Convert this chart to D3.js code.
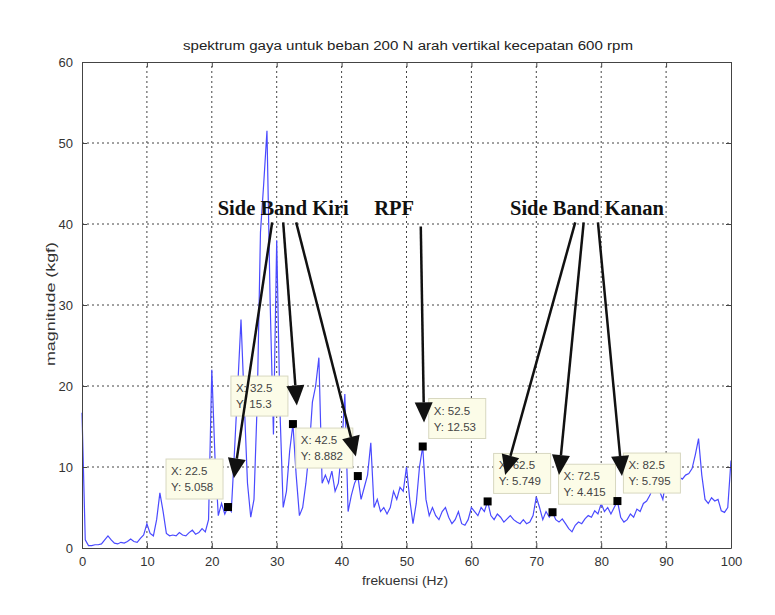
<!DOCTYPE html>
<html><head><meta charset="utf-8">
<script src="https://cdn.jsdelivr.net/npm/d3@7"></script>
<style>body{margin:0;background:#fff}svg{display:block}</style>
</head><body>
<svg id="c" width="775" height="615"></svg>
<script>
const title = "spektrum gaya untuk beban 200 N arah vertikal kecepatan 600 rpm";
const xLabel = "frekuensi (Hz)";
const yLabel = "magnitude (kgf)";
const xTicks = [0,10,20,30,40,50,60,70,80,90,100];
const yTicks = [0,10,20,30,40,50,60];
const freqStep = 0.5;
const magnitude = [
16.7,1.0,0.3,0.3,0.4,0.4,0.5,1.0,1.5,1.0,
0.6,0.5,0.7,0.6,0.8,1.1,0.8,0.7,1.2,1.6,
3.0,1.8,1.5,3.5,6.8,4.5,1.8,1.5,1.6,1.5,
1.9,1.6,1.5,1.9,2.2,1.7,1.9,2.4,2.0,3.5,
22.0,11.0,4.0,5.5,4.2,5.06,4.5,12.0,20.0,28.2,
18.0,8.0,3.8,6.0,18.0,39.0,45.0,51.5,30.0,14.0,
38.0,17.0,5.0,7.0,12.0,15.3,9.0,4.0,5.0,8.0,
12.0,18.0,20.0,23.5,8.0,9.0,8.0,9.5,7.0,8.0,
12.0,19.0,4.5,6.5,8.0,8.88,6.0,7.5,9.0,13.0,
5.0,6.0,4.5,5.0,4.2,5.0,7.0,6.0,7.5,7.0,
10.0,6.0,3.0,5.5,10.0,12.53,6.0,4.0,5.0,4.0,
3.5,4.5,5.0,3.8,3.0,3.5,4.5,3.0,2.8,3.5,
5.0,4.5,4.0,5.0,4.5,5.75,4.0,3.5,4.2,3.8,
3.2,3.6,4.0,3.5,3.2,3.0,3.5,3.0,3.2,4.0,
6.3,5.0,3.5,4.5,3.8,4.4,3.5,3.2,3.6,3.0,
2.4,2.0,2.8,3.2,3.0,3.6,4.0,3.8,4.6,4.2,
5.5,4.5,5.0,4.2,5.0,5.8,3.8,3.2,3.5,4.2,
3.8,4.8,4.5,5.5,5.8,6.5,7.5,8.2,7.0,6.0,
8.5,8.0,8.4,8.0,8.8,8.5,9.0,9.2,9.8,11.5,
13.5,9.0,6.0,5.5,6.2,5.8,6.0,4.6,4.4,5.0,
10.8];
const tipX = [22.5,32.5,42.5,52.5,62.5,72.5,82.5];
const tipY = [5.058,15.3,8.882,12.53,5.749,4.415,5.795];
const tipLabelX = ["22.5","32.5","42.5","52.5","62.5","72.5","82.5"];
const tipLabelY = ["5.058","15.3","8.882","12.53","5.749","4.415","5.795"];
const tipSide = ["left","left","left","right","right","right","right"];
const annLabels = ["Side Band Kiri","RPF","Side Band Kanan"];
const annLabelPos = [[31.0,41.1],[48.1,41.1],[77.8,41.1]];
const arrowStart = [[29.3,40.2],[31.0,40.2],[33.0,40.2],[52.2,39.7],[76.0,40.2],[77.3,40.2],[79.5,40.2]];
const arrowEnd = [[23.4,8.6],[33.1,17.6],[42.2,11.3],[52.7,15.5],[65.2,9.0],[73.5,9.0],[83.2,8.9]];

const svg = d3.select("#c");
const x = d3.scaleLinear().domain([0,100]).range([82,731]);
const y = d3.scaleLinear().domain([0,60]).range([548,62]);
const font = "Liberation Sans, Arial, sans-serif";
const axisCol = "#444";

// grid
const g = svg.append("g");
g.selectAll(".gx").data(xTicks.slice(1,-1)).enter().append("line")
  .attr("x1",d=>x(d)).attr("x2",d=>x(d)).attr("y1",y(0)).attr("y2",y(60))
  .attr("stroke","#444").attr("stroke-width",1).attr("stroke-dasharray","2,3");
g.selectAll(".gy").data(yTicks.slice(1,-1)).enter().append("line")
  .attr("y1",d=>y(d)).attr("y2",d=>y(d)).attr("x1",x(0)).attr("x2",x(100))
  .attr("stroke","#444").attr("stroke-width",1).attr("stroke-dasharray","2,3");

// spectrum line
const pts = magnitude.map((v,i)=>[i*freqStep,v]);
svg.append("path").datum(pts)
  .attr("d",d3.line().x(d=>x(d[0])).y(d=>y(d[1])))
  .attr("fill","none").attr("stroke","#4a4aff").attr("stroke-width",1.2);

// axes
const axB = d3.axisBottom(x).tickValues(xTicks).tickSizeInner(-5).tickSizeOuter(0).tickPadding(9);
const axT = d3.axisTop(x).tickValues(xTicks).tickSizeInner(-5).tickSizeOuter(0).tickFormat("");
const axL = d3.axisLeft(y).tickValues(yTicks).tickSizeInner(-5).tickSizeOuter(0).tickPadding(9);
const axR = d3.axisRight(y).tickValues(yTicks).tickSizeInner(-5).tickSizeOuter(0).tickFormat("");
[[axB,`translate(0,${y(0)})`],[axT,`translate(0,${y(60)})`],[axL,`translate(${x(0)},0)`],[axR,`translate(${x(100)},0)`]].forEach(([a,t])=>{
  const ga = svg.append("g").attr("transform",t).call(a);
  ga.selectAll("path,line").attr("stroke",axisCol);
  ga.selectAll("text").attr("fill","#333").style("font-family",font).style("font-size","13px");
});

// titles
svg.append("text").attr("x",408).attr("y",50).attr("text-anchor","middle")
  .attr("textLength",450).attr("lengthAdjust","spacingAndGlyphs")
  .style("font-family",font).style("font-size","12.5px").attr("fill","#222").text(title);
svg.append("text").attr("x",405).attr("y",585).attr("text-anchor","middle")
  .attr("textLength",86).attr("lengthAdjust","spacingAndGlyphs")
  .style("font-family",font).style("font-size","13px").attr("fill","#333").text(xLabel);
svg.append("text").attr("transform","translate(55,304) rotate(-90)").attr("text-anchor","middle")
  .attr("textLength",124).attr("lengthAdjust","spacingAndGlyphs")
  .style("font-family",font).style("font-size","12px").attr("fill","#333").text(yLabel);

// data tips
tipX.forEach((tx,i)=>{
  const px = x(tx), py = y(tipY[i]);
  const w = 57, h = 40;
  const bx = tipSide[i]==="left" ? px-5-w : px+6;
  const by = py-8-h;
  svg.append("rect").attr("x",bx).attr("y",by).attr("width",w).attr("height",h)
    .attr("fill","#fcfce8").attr("stroke","#d8d8c0").attr("stroke-width",1);
  svg.append("text").attr("x",bx+5).attr("y",by+16).style("font-family",font).style("font-size","11.5px")
    .attr("fill","#444").text("X: "+tipLabelX[i]);
  svg.append("text").attr("x",bx+5).attr("y",by+32).style("font-family",font).style("font-size","11.5px")
    .attr("fill","#444").text("Y: "+tipLabelY[i]);
  svg.append("rect").attr("x",px-4).attr("y",py-4).attr("width",8).attr("height",8).attr("fill","#000");
});

// arrows
arrowStart.forEach((s,i)=>{
  const x1=x(s[0]), y1=y(s[1]), x2=x(arrowEnd[i][0]), y2=y(arrowEnd[i][1]);
  const ang = Math.atan2(y2-y1,x2-x1), L=20, W=9;
  const bx = x2-L*Math.cos(ang), by = y2-L*Math.sin(ang);
  svg.append("line").attr("x1",x1).attr("y1",y1).attr("x2",bx).attr("y2",by)
    .attr("stroke","#111").attr("stroke-width",2.5);
  const p = [[x2,y2],[bx+W*Math.sin(ang),by-W*Math.cos(ang)],[bx-W*Math.sin(ang),by+W*Math.cos(ang)]];
  svg.append("path").attr("d","M"+p.map(q=>q.join(",")).join("L")+"Z").attr("fill","#111");
});
annLabels.forEach((t,i)=>{
  svg.append("text").attr("x",x(annLabelPos[i][0])).attr("y",y(annLabelPos[i][1]))
    .attr("text-anchor","middle").style("font-family","Liberation Serif, Times New Roman, serif")
    .style("font-weight","bold").style("font-size","20.5px").attr("fill","#111").text(t);
});
</script>
</body></html>
